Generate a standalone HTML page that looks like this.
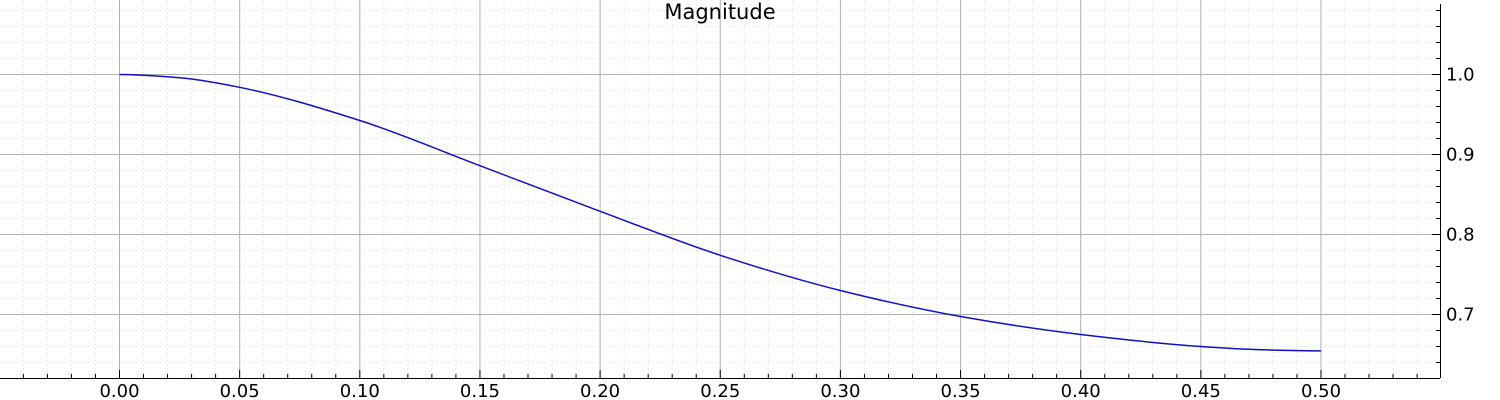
<!DOCTYPE html>
<html><head><meta charset="utf-8"><style>
body{margin:0;background:#fff;}
svg{display:block;font-family:"DejaVu Sans","Liberation Sans",sans-serif;}
</style></head><body>
<svg id="chart" width="1500" height="400" xmlns="http://www.w3.org/2000/svg">
<g id="grid"></g>
<g id="axes"></g>
<text x="720" y="19" font-size="21" text-anchor="middle" fill="#000">Magnitude</text>
</svg>
<script>
const xValues=[0,0.025,0.05,0.1,0.15,0.2,0.25,0.3,0.35,0.4,0.45,0.475,0.5];
const magnitude=[1.0,0.996,0.984,0.9425,0.886,0.829,0.774,0.73,0.6975,0.675,0.66,0.656,0.6546];
const xTicks=["0.00","0.05","0.10","0.15","0.20","0.25","0.30","0.35","0.40","0.45","0.50"];
const yTicks=["0.7","0.8","0.9","1.0"];
const NS="http://www.w3.org/2000/svg";
const X=v=>119.5+v*2403;
const Y=v=>74.5-(v-1)*800;
const grid=document.getElementById('grid'),axes=document.getElementById('axes'),svg=document.getElementById('chart');
function mk(p,tag,a){const e=document.createElementNS(NS,tag);for(const k in a)e.setAttribute(k,a[k]);p.appendChild(e);return e;}
for(let i=-4;i<=54;i++){const x=X(i/100);if(x<0||x>1440)continue;
 const l=mk(grid,'line',{x1:x,x2:x,y1:0,y2:378,stroke:'#ddd','stroke-dasharray':'1,3'});
 
 
 mk(axes,'line',{x1:x,x2:x,y1:378,y2:i%5==0?370:374,stroke:'#000'});}
for(let i=31;i<=54;i++){const y=Y(i/50);if(y<0||y>378)continue;
 const l=mk(grid,'line',{x1:0,x2:1440,y1:y,y2:y,stroke:'#ddd','stroke-dasharray':'1,3'});
 
 
 mk(axes,'line',{x1:1440,x2:1436,y1:y,y2:y,stroke:'#000'});}
xTicks.forEach(t=>{const x=X(parseFloat(t));
 const l=mk(grid,'line',{x1:x,x2:x,y1:0,y2:378,stroke:'#b0b0b0'});
 
 
 const tx=mk(axes,'text',{x:x,y:397,'font-size':18,'text-anchor':'middle'});tx.textContent=t;
 
 });
yTicks.forEach(t=>{const y=Y(parseFloat(t));
 const l=mk(grid,'line',{x1:0,x2:1440,y1:y,y2:y,stroke:'#b0b0b0'});
 
 
 mk(axes,'line',{x1:1440,x2:1432,y1:y,y2:y,stroke:'#000'});
 const tx=mk(axes,'text',{x:1446,y:y+6,'font-size':18});tx.textContent=t;
 
 });
const ax1=mk(axes,'line',{x1:0,x2:1440,y1:378.5,y2:378.5,stroke:'#000'});


const ax2=mk(axes,'line',{x1:1440.5,x2:1440.5,y1:4,y2:378,stroke:'#000'});


// monotone cubic (Fritsch-Carlson) through data points
const px=xValues.map(X),py=magnitude.map(Y),n=px.length;
const dl=[],m=new Array(n);
for(let i=0;i<n-1;i++)dl.push((py[i+1]-py[i])/(px[i+1]-px[i]));
m[0]=0;m[n-1]=0;
for(let i=1;i<n-1;i++){m[i]=(dl[i-1]*dl[i]<=0)?0:(2/(1/dl[i-1]+1/dl[i]));}
let d='M'+px[0]+','+py[0];
for(let i=0;i<n-1;i++){const h=(px[i+1]-px[i])/3;
 d+=' C'+(px[i]+h)+','+(py[i]+m[i]*h)+' '+(px[i+1]-h)+','+(py[i+1]-m[i+1]*h)+' '+px[i+1]+','+py[i+1];}
const c=mk(svg,'path',{d:d,fill:'none',stroke:'#1010c0','stroke-width':1.5});


</script>
</body></html>
